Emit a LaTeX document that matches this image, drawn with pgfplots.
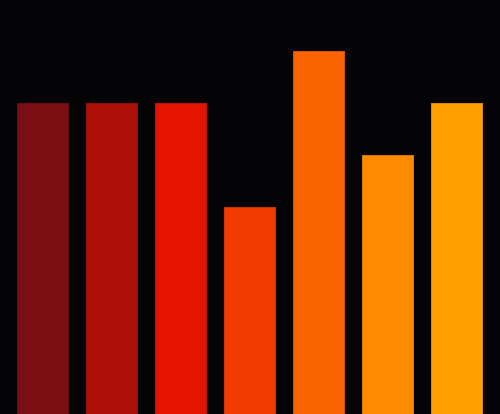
\documentclass[border=0pt]{standalone}
\usepackage{pgfplots}
\pgfplotsset{compat=1.18}

\definecolor{bgc}{HTML}{040406}
\definecolor{c1}{HTML}{7B0E13}
\definecolor{c2}{HTML}{AB0F07}
\definecolor{c3}{HTML}{E51400}
\definecolor{c4}{HTML}{F03C00}
\definecolor{c5}{HTML}{FA6400}
\definecolor{c6}{HTML}{FF8C00}
\definecolor{c7}{HTML}{FFA000}

\begin{document}
\begin{tikzpicture}
\begin{axis}[
  width=10cm, height=8.28cm,
  scale only axis,
  ybar,
  bar width=0.74,
  bar shift=0pt,
  xmin=-0.623, xmax=6.623,
  ymin=0, ymax=8,
  ticks=none,
  axis line style={draw=none},
  axis background/.style={fill=bgc},
  clip=true,
  every axis plot/.append style={line width=0.5pt},
]
\addplot[fill=c1, draw=c1!85!black] coordinates {(0,6)};
\addplot[fill=c2, draw=c2!85!black] coordinates {(1,6)};
\addplot[fill=c3, draw=c3!85!black] coordinates {(2,6)};
\addplot[fill=c4, draw=c4!85!black] coordinates {(3,4)};
\addplot[fill=c5, draw=c5!85!black] coordinates {(4,7)};
\addplot[fill=c6, draw=c6!85!black] coordinates {(5,5)};
\addplot[fill=c7, draw=c7!85!black] coordinates {(6,6)};
\end{axis}
\end{tikzpicture}
\end{document}
